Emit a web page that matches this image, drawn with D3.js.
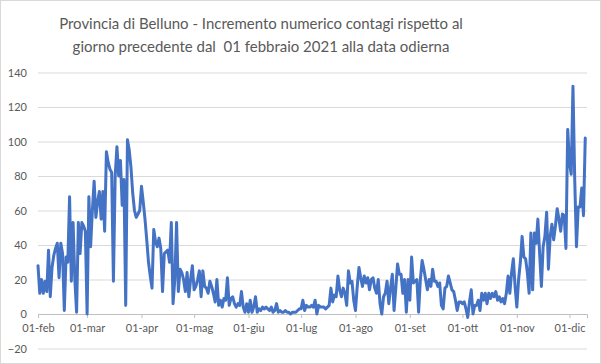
<!DOCTYPE html>
<html lang="it">
    <head>
        <meta charset="utf-8">
        <title>Belluno contagi</title>
        <script src="https://cdn.jsdelivr.net/npm/d3@7"></script>
        <style>
            body { margin: 0; background: #fff; }
            text { font-family: Lato, "Open Sans", sans-serif; fill: #595959; }
        </style>
    </head>
    <body>
        <div id="chart"></div>
    </body>
    <script>
        // daily increments, one array per month (2021)
        const feb = [28, 12, 20, 12, 19, 13, 37, 10, 27, 34, 38, 41, 21, 41, 35, 2, 33, 30, 68, 19, 53, 20, 1, 53, 35, 53, 51, 48];
        const mar = [0, 68, 39, 60, 77, 56, 65, 71, 55, 71, 48, 94, 88, 84, 82, 19, 80, 97, 80, 89, 63, 78, 5, 101, 95, 85, 70, 60, 56, 58, 60];
        const apr = [74, 65, 55, 43, 30, 22, 15, 49, 42, 39, 44, 38, 13, 35, 36, 37, 30, 53, 6, 20, 53, 13, 26, 24, 20, 13, 24, 10, 20, 28];
        const mag = [14, 16, 20, 25, 10, 25, 16, 15, 12, 19, 16, 12, 7, 20, 5, 8, 4, 9, 8, 21, 5, 9, 10, 6, 4, 6, 5, 13, 4, 1, 6];
        const giu = [1, 8, 1, 4, 10, 1, 3, 2, 4, 3, 4, 3, 2, 4, 1, 2, 6, 1, 2, 1, 1, 2, 1, 1, 0, 1, 1, 1, 2, 3];
        const lug = [3, 8, 2, 5, 4, 4, 5, 4, 8, 0, 5, 4, 4, 4, 3, 4, 5, 15, 7, 11, 10, 22, 14, 10, 15, 12, 5, 25, 18, 19, 8];
        const ago = [2, 16, 27, 21, 16, 22, 18, 21, 14, 20, 21, 15, 12, 20, 6, 0, 10, 12, 19, 6, 15, 23, 2, 15, 29, 23, 23, 12, 20, 1, 20];
        const set = [8, 33, 18, 19, 20, 1, 20, 31, 26, 20, 14, 20, 16, 26, 19, 19, 16, 18, 5, 3, 15, 16, 22, 18, 14, 13, 8, 2, 7, 7];
        const ott = [6, 7, 3, -2, 7, 14, 0, 5, 5, 8, 2, 12, 8, 12, 6, 12, 9, 12, 10, 13, 8, 10, 7, 9, 6, 12, 22, 12, 24, 32, 16];
        const nov = [4, 20, 30, 45, 33, 32, 24, 12, 47, 14, 47, 41, 55, 35, 16, 39, 45, 59, 26, 45, 52, 43, 51, 61, 55, 48, 58, 57, 38, 107];
        const dic = [88, 81, 132, 78, 39, 62, 62, 73, 57, 102];

        const monthLabels = ["01-feb", "01-mar", "01-apr", "01-mag", "01-giu", "01-lug", "01-ago", "01-set", "01-ott", "01-nov", "01-dic"];
        const yTicks = [-20, 0, 20, 40, 60, 80, 100, 120, 140];
        const titleLines = ["Provincia di Belluno - Incremento numerico contagi rispetto al",
                            "giorno precedente dal  01 febbraio 2021 alla data odierna"];

        var W = 601, H = 364;
        var start = new Date(2021, 1, 1);
        var values = [].concat(feb, mar, apr, mag, giu, lug, ago, set, ott, nov, dic);
        var data = values.map((v, i) => ({date: d3.timeDay.offset(start, i), value: v}));

        var svg = d3.select("#chart").append("svg").attr("width", W).attr("height", H);

        // outer chart border
        svg.append("rect")
            .attr("x", 0.5).attr("y", 0.5)
            .attr("width", W - 1).attr("height", H - 1)
            .attr("fill", "#fff").attr("stroke", "#d9d9d9");

        var x = d3.scaleTime()
            .domain([start, new Date(2021, 11, 11)])
            .range([38, 587]);
        var y = d3.scaleLinear()
            .domain([-20, 140])
            .range([348.5, 72.5]);

        // title
        svg.selectAll(".title")
            .data(titleLines)
            .enter()
            .append("text")
            .attr("class", "title")
            .attr("x", 261)
            .attr("y", (d, i) => 29 + i * 23)
            .attr("text-anchor", "middle")
            .style("white-space", "pre")
            .style("font-size", "18px")
            .text(d => d);
        // fit first line to its width in the reference
        var first = svg.select(".title").node().getComputedTextLength();
        svg.selectAll(".title").style("font-size", (18 * 404 / first) + "px");

        // grid + y labels
        var yAxis = svg.append("g")
            .attr("transform", "translate(38,0)")
            .call(d3.axisLeft(y).tickValues(yTicks).tickSize(-(587 - 38)).tickPadding(11));
        yAxis.select(".domain").remove();
        yAxis.selectAll("line").attr("stroke", "#d9d9d9");
        yAxis.selectAll("text").style("font-size", "11px").attr("fill", "#595959");

        // x axis on the zero line
        var months = d3.timeMonth.range(start, new Date(2021, 11, 2));
        var xAxis = svg.append("g")
            .attr("transform", "translate(0," + y(0) + ")")
            .call(d3.axisBottom(x)
                .tickValues(months)
                .tickSize(4)
                .tickPadding(6)
                .tickFormat((d, i) => monthLabels[i]));
        xAxis.select(".domain").attr("stroke", "#bfbfbf");
        xAxis.selectAll("line").attr("stroke", "#bfbfbf");
        xAxis.selectAll("text").style("font-size", "11px").attr("fill", "#595959");

        // series
        var line = d3.line()
            .x(d => x(d.date))
            .y(d => y(d.value));
        svg.append("path")
            .datum(data)
            .attr("d", line)
            .attr("fill", "none")
            .attr("stroke", "#4472c4")
            .attr("stroke-width", 3)
            .attr("stroke-linejoin", "round")
            .attr("stroke-linecap", "round");
    </script>
</html>
